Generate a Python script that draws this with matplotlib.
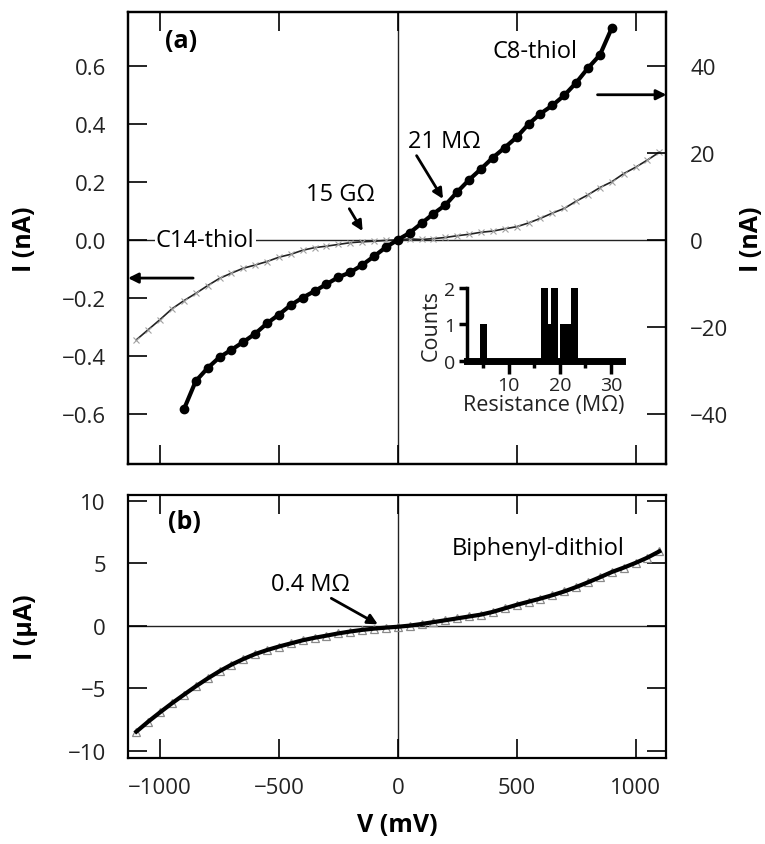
import matplotlib.pyplot as plt

plt.rcParams['font.family'] = ['Open Sans', 'DejaVu Sans']

# C8-thiol (right axis, nA)
v_c8 = list(range(-900, 901, 50))
i_c8 = [-39.0, -32.5, -29.5, -27.0, -25.3, -23.5, -21.6, -19.2, -17.2, -15.0,
        -13.3, -11.8, -10.2, -8.6, -7.5, -5.8, -3.8, -1.7, 0.0, 1.6,
        3.8, 6.0, 8.0, 11.0, 13.8, 16.3, 18.9, 21.2, 23.6, 26.6,
        29.0, 30.9, 33.2, 36.1, 39.5, 42.5, 48.7]

# C14-thiol (left axis, nA)
v_c14 = list(range(-1100, 1101, 50))
i_c14 = [-0.345, -0.31, -0.275, -0.238, -0.21, -0.185, -0.158, -0.133, -0.115, -0.098,
         -0.087, -0.075, -0.060, -0.050, -0.036, -0.027, -0.022, -0.016, -0.010, -0.007,
         -0.005, -0.002, 0.0, 0.003, 0.001, 0.004, 0.008, 0.014, 0.019, 0.026,
         0.030, 0.038, 0.045, 0.058, 0.074, 0.092, 0.108, 0.133, 0.155, 0.180,
         0.200, 0.228, 0.250, 0.275, 0.302]

# Biphenyl-dithiol (uA)
v_bp = list(range(-1100, 1101, 50))
i_bp = [-8.45, -7.65, -6.90, -6.18, -5.50, -4.83, -4.20, -3.62, -3.10, -2.65,
        -2.25, -1.93, -1.65, -1.40, -1.15, -0.95, -0.78, -0.60, -0.45, -0.32,
        -0.22, -0.14, -0.07, 0.02, 0.15, 0.30, 0.45, 0.60, 0.75, 0.90,
        1.12, 1.40, 1.68, 1.93, 2.18, 2.45, 2.75, 3.10, 3.48, 3.88,
        4.30, 4.65, 5.03, 5.45, 5.95]

# histogram of resistances (inset)
hist_r = [5, 17, 18, 19, 20.7, 21.5, 22.8]
hist_n = [1, 2, 1, 2, 1, 1, 2]

vticks = [-1000, -500, 0, 500, 1000]

fig = plt.figure(figsize=(7.65, 8.45), dpi=100)
ax = fig.add_axes([0.1673, 0.4497, 0.7039, 0.5355])
ax2 = ax.twinx()
axb = fig.add_axes([0.1673, 0.1018, 0.7039, 0.3112])


def frame(a):
    for s in a.spines.values():
        s.set_linewidth(1.6)
    a.tick_params(direction='in', length=14, width=1.2, labelsize=16,
                  labelcolor='#222222')


# ---- panel (a)
frame(ax)
frame(ax2)
ax.set_xlim(-1135, 1130)
ax.set_ylim(-0.773, 0.787)
ax2.set_ylim(-0.773 * 66.7, 0.787 * 66.7)
ax.set_xticks(vticks)
ax.set_yticks([-0.6, -0.4, -0.2, 0.0, 0.2, 0.4, 0.6])
ax.set_yticklabels(['\u22120.6', '\u22120.4', '\u22120.2', '0.0', '0.2', '0.4', '0.6'])
ax2.set_yticks([-40, -20, 0, 20, 40])
ax2.set_yticklabels(['\u221240', '\u221220', '0', '20', '40'])
ax.tick_params(axis='x', top=True, bottom=True, labelbottom=False)
ax.tick_params(axis='y', pad=16)
ax2.tick_params(axis='y', pad=17)

ax.axhline(0, color='#222222', lw=1.0, zorder=1)
ax.axvline(0, color='#222222', lw=1.0, zorder=1)

ax.plot(v_c14, i_c14, color='#222222', lw=1.2, marker='x', ms=5,
        mec='#a0a0a0', mew=0.8, zorder=3)
ax2.plot(v_c8, i_c8, color='black', lw=3, marker='o', ms=6, zorder=3)

ax.set_ylabel('I (nA)', fontweight='bold', fontsize=18)
ax.yaxis.set_label_coords(-0.169, 0.5)
ax2.set_ylabel('I (nA)', fontweight='bold', fontsize=18, rotation=90)
ax2.yaxis.set_label_coords(1.134, 0.5)

ax.text(0.069, 0.936, '(a)', transform=ax.transAxes, fontweight='bold',
        fontsize=18, va='center')
ax.text(578, 0.651, 'C8-thiol', fontsize=17, ha='center', va='center')
ax.text(-810, 0.0, 'C14-thiol', fontsize=17, ha='center', va='center', zorder=5,
        bbox=dict(facecolor='white', edgecolor='none', pad=1))
arr = dict(arrowstyle='-|>', lw=2, color='black', mutation_scale=15,
           shrinkA=0, shrinkB=0)
ax.annotate('21 M\u03a9', xy=(190, 0.141), xytext=(194, 0.341), fontsize=17,
            ha='center', va='center', arrowprops=dict(arr, relpos=(0.1, 0)))
ax.annotate('15 G\u03a9', xy=(-148, 0.030), xytext=(-240, 0.158), fontsize=17,
            ha='center', va='center', arrowprops=dict(arr, relpos=(0.6, 0)))
ax.annotate('', xy=(1130, 0.500), xytext=(840, 0.500), arrowprops=arr)
ax.annotate('', xy=(-1135, -0.132), xytext=(-861, -0.132), arrowprops=arr)

# ---- inset histogram
axi = fig.add_axes([0.610, 0.5716, 0.2026, 0.0864])
axi.patch.set_alpha(0)
axi.bar(hist_r, hist_n, width=1.4, color='black')
axi.set_xlim(1.75, 32.1)
axi.set_ylim(0, 2)
axi.spines['top'].set_visible(False)
axi.spines['right'].set_visible(False)
axi.spines['left'].set_linewidth(2.5)
axi.spines['bottom'].set_linewidth(5)
axi.set_xticks([10, 20, 30])
axi.set_xticks([5, 15, 25], minor=True)
axi.set_yticks([0, 1, 2])
axi.tick_params(axis='x', which='major', length=9, width=2.5, labelsize=14,
                pad=2, labelcolor='#222222')
axi.tick_params(axis='x', which='minor', length=5, width=2.5)
axi.tick_params(axis='y', length=6, width=2.5, labelsize=14, pad=2,
                labelcolor='#222222')
axi.set_xlabel('Resistance (M\u03a9)', fontsize=15.5, labelpad=0, color='#222222')
axi.set_ylabel('Counts', fontsize=15.5, labelpad=2, color='#222222')

# ---- panel (b)
frame(axb)
axb.set_xlim(-1135, 1130)
axb.set_ylim(-10.55, 10.45)
axb.set_xticks(vticks)
axb.set_xticklabels(['\u22121000', '\u2212500', '0', '500', '1000'])
axb.set_yticks([-10, -5, 0, 5, 10])
axb.set_yticklabels(['\u221210', '\u22125', '0', '5', '10'])
axb.tick_params(top=True, right=True)
axb.tick_params(axis='x', pad=14)
axb.tick_params(axis='y', pad=16)
axb.axhline(0, color='#222222', lw=1.0, zorder=1)
axb.axvline(0, color='#222222', lw=1.0, zorder=1)

axb.plot(v_bp, i_bp, color='none', marker='^', ms=6, mfc='none',
         mec='#8a8a8a', mew=0.9, zorder=2)
axb.plot(v_bp, i_bp, color='black', lw=3, zorder=3)

axb.set_ylabel('I (\u00b5A)', fontweight='bold', fontsize=18)
axb.yaxis.set_label_coords(-0.167, 0.5)
axb.set_xlabel('V (mV)', fontweight='bold', fontsize=18)
axb.xaxis.set_label_coords(0.5, -0.205)

axb.text(0.075, 0.90, '(b)', transform=axb.transAxes, fontweight='bold',
         fontsize=18, va='center')
axb.text(954, 6.24, 'Biphenyl-dithiol', fontsize=17, ha='right', va='center')
axb.annotate('0.4 M\u03a9', xy=(-84, 0.12), xytext=(-367, 3.38), fontsize=17,
             ha='center', va='center', arrowprops=dict(arr, relpos=(0.7, 0)))

fig.savefig('out.png', dpi=100)
